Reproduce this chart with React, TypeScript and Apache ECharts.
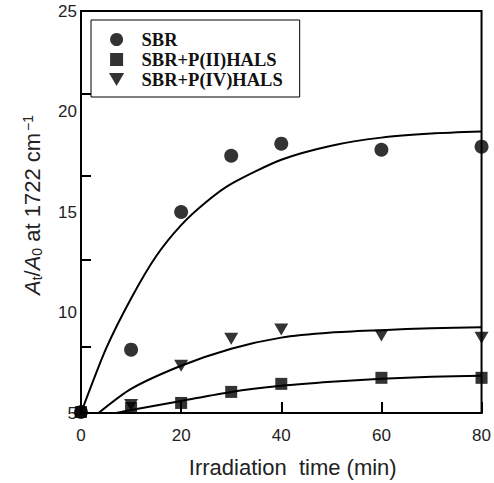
import React, { useEffect, useRef } from "react";
import * as echarts from "echarts";

const xTicks = [0, 20, 40, 60, 80];
const yTicks = [5, 10, 15, 20, 25];
const yInnerTicks = [8.3, 12.6, 16.8, 20.9];

const pointTimes = [0, 10, 20, 30, 40, 60, 80];
const sbrPoints = [5.05, 8.15, 15.0, 17.8, 18.4, 18.1, 18.25];
const p2Points = [5.05, 5.25, 5.5, 6.05, 6.45, 6.75, 6.75];
const p4Times = [10, 20, 30, 40, 60, 80];
const p4Points = [5.4, 7.35, 8.7, 9.15, 8.85, 8.75];

const sbrFitTimes = [0, 5, 10, 15, 20, 25, 30, 40, 50, 60, 70, 80];
const sbrFit = [5.0, 8.2, 10.7, 12.8, 14.35, 15.5, 16.4, 17.6, 18.3, 18.7, 18.9, 19.0];
const p4FitTimes = [3.5, 10, 20, 30, 40, 50, 60, 70, 80];
const p4Fit = [5.0, 6.2, 7.35, 8.2, 8.75, 9.0, 9.12, 9.22, 9.27];
const p2FitTimes = [7, 10, 20, 30, 40, 50, 60, 70, 80];
const p2Fit = [5.0, 5.15, 5.6, 6.05, 6.35, 6.55, 6.7, 6.8, 6.85];

const names = ["SBR", "SBR+P(II)HALS", "SBR+P(IV)HALS"];
const triDown = "path://M0,0 L14,0 L7,12 Z";
const square = "path://M0,0 L10,0 L10,10 L0,10 Z";

const zip = (a: number[], b: number[]) => a.map((v, i) => [v, b[i]]);

export default function App() {
  const ref = useRef<HTMLDivElement>(null);
  useEffect(() => {
    if (!ref.current) return;
    const chart = echarts.init(ref.current, undefined, { renderer: "svg" });
    const sans = "Liberation Sans";
    const lineStyle = { color: "#000", width: 2 };
    chart.setOption({
      animation: false,
      backgroundColor: "#fff",
      grid: {
        left: 81,
        right: 4,
        top: 11,
        bottom: 69,
        show: true,
        borderColor: "#000",
        borderWidth: 2,
        backgroundColor: "transparent",
      },
      legend: {
        orient: "vertical",
        left: 91,
        top: 20,
        padding: [10, 17, 8, 18],
        itemGap: 1,
        itemWidth: 40,
        itemHeight: 13,
        borderColor: "#000",
        borderWidth: 1,
        backgroundColor: "#fff",
        textStyle: {
          fontFamily: "Liberation Serif",
          fontWeight: "bold",
          fontSize: 18.5,
          color: "#111",
        },
        data: [
          { name: names[0], icon: "circle" },
          { name: names[1], icon: square },
          { name: names[2], icon: triDown },
        ],
      },
      xAxis: {
        type: "value",
        min: xTicks[0],
        max: xTicks[xTicks.length - 1],
        interval: 20,
        axisLine: { show: true, lineStyle: { color: "#000", width: 2 } },
        axisTick: { show: true, inside: true, length: 11, lineStyle: { color: "#000", width: 2 } },
        axisLabel: { fontFamily: sans, fontSize: 17, color: "#222", margin: 14 },
        splitLine: { show: false },
        name: "Irradiation  time (min)",
        nameLocation: "middle",
        nameGap: 43,
        nameTextStyle: { fontFamily: sans, fontSize: 22, color: "#222", padding: [0, 0, 0, 23] },
      },
      yAxis: {
        type: "value",
        min: yTicks[0],
        max: yTicks[yTicks.length - 1],
        interval: 5,
        axisLine: { show: true, lineStyle: { color: "#000", width: 2 } },
        axisTick: {
          show: true,
          inside: true,
          length: 10,
          customValues: yInnerTicks,
          lineStyle: { color: "#000", width: 2 },
        },
        axisLabel: { fontFamily: sans, fontSize: 17, color: "#222", margin: 4 },
        splitLine: { show: false },
        name: "{i|A}{s|t}{n|/}{i|A}{s|0}{n| at 1722 cm}{p|−1}",
        nameLocation: "middle",
        nameGap: 37,
        nameTextStyle: {
          fontFamily: sans,
          fontSize: 22,
          color: "#222",
          padding: [0, 0, 0, 14],
          rich: {
            i: { fontFamily: sans, fontSize: 22, fontStyle: "italic", color: "#222" },
            n: { fontFamily: sans, fontSize: 22, color: "#222" },
            s: { fontFamily: sans, fontSize: 14, color: "#222", verticalAlign: "bottom", padding: [9, 0, 0, 0] },
            p: { fontFamily: sans, fontSize: 14, color: "#222", verticalAlign: "top", padding: [0, 0, 9, 2] },
          },
        },
      },
      series: [
        {
          type: "line",
          data: zip(sbrFitTimes, sbrFit),
          smooth: 0.25,
          showSymbol: false,
          lineStyle,
          silent: true,
        },
        {
          type: "line",
          data: zip(p4FitTimes, p4Fit),
          smooth: 0.25,
          showSymbol: false,
          lineStyle,
          silent: true,
        },
        {
          type: "line",
          data: zip(p2FitTimes, p2Fit),
          smooth: 0.25,
          showSymbol: false,
          lineStyle,
          silent: true,
        },
        {
          name: names[0],
          type: "scatter",
          symbol: "circle",
          symbolSize: 14,
          itemStyle: { color: "#000" },
          data: zip(pointTimes, sbrPoints),
        },
        {
          name: names[1],
          type: "scatter",
          symbol: square,
          symbolSize: 12,
          itemStyle: { color: "#000" },
          data: zip(pointTimes, p2Points),
        },
        {
          name: names[2],
          type: "scatter",
          symbol: triDown,
          symbolSize: [14, 12],
          itemStyle: { color: "#000" },
          data: zip(p4Times, p4Points),
        },
      ],
    });
    return () => chart.dispose();
  }, []);
  return (
    <div
      ref={ref}
      style={{ position: "fixed", left: 0, top: 0, width: 494, height: 483, background: "#fff" }}
    />
  );
}
